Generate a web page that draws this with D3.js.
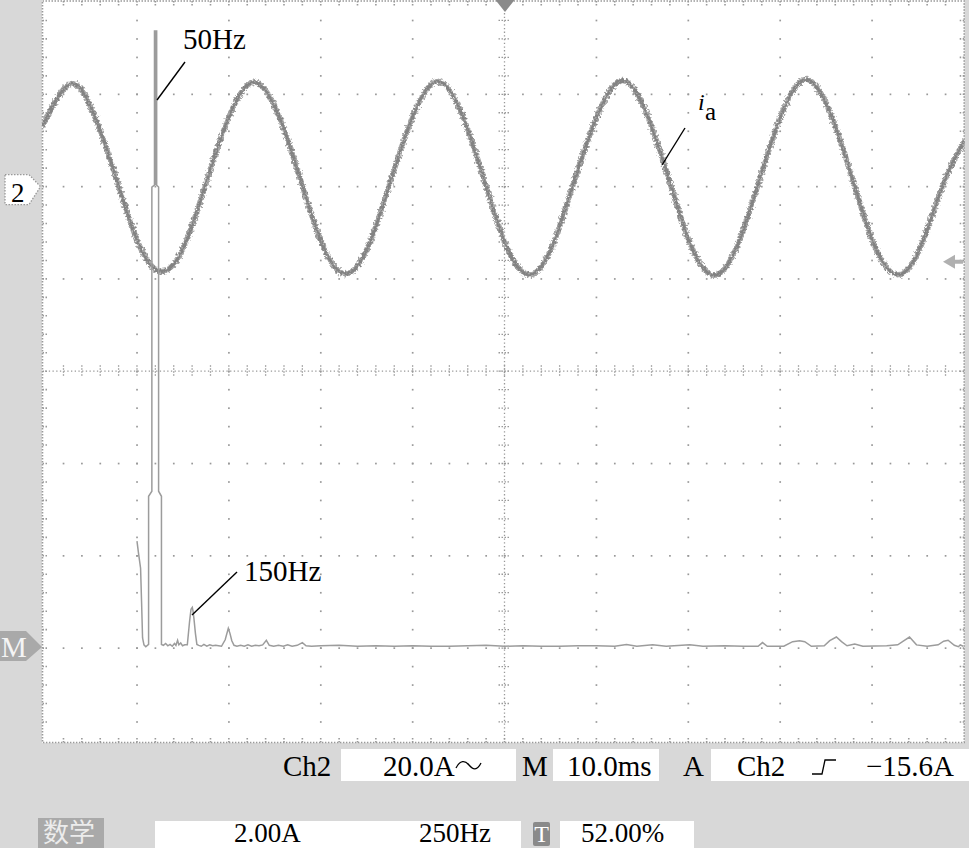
<!DOCTYPE html>
<html><head><meta charset="utf-8">
<script src="https://cdn.jsdelivr.net/npm/d3@7"></script>
<style>html,body{margin:0;padding:0;background:#d8d8d8;} svg{display:block;}</style>
</head><body><svg id="c" width="969" height="848"></svg>
<script>
// ---------------- data ----------------
// Ch2 current i_a : time (ms) and value (A)
const sineTimeMs = [-0.3, 2.7, 5.2, 7.7, 10.2, 12.7, 15.2, 17.7, 20.2, 22.7, 25.2, 27.7, 30.2, 32.7, 35.2, 37.7, 40.2, 42.7, 45.2, 47.7, 50.2, 52.7, 55.2, 57.7, 60.3, 62.8, 65.3, 67.8, 70.3, 72.8, 75.3, 77.8, 80.3, 82.8, 85.3, 87.8, 90.3, 92.8, 95.3, 97.8, 100.1];
const sineAmpA   = [13.0, 22.2, 16.2, 2.0, -12.5, -18.4, -12.6, 1.9, 16.0, 22.6, 16.4, 2.1, -12.7, -18.9, -12.8, 1.8, 16.1, 22.8, 16.5, 2.0, -12.9, -19.1, -12.9, 1.9, 16.3, 23.0, 16.6, 2.2, -12.8, -19.2, -13.0, 1.8, 16.4, 23.2, 16.7, 2.1, -12.9, -19.1, -13.0, 0.8, 10.0];

// Math FFT : frequency (Hz) and amplitude (A)
const fftFreqHz = [0, 4.4, 9.8, 12.5, 15.2, 19, 24, 31.6, 31.6, 40.5, 40.5, 47.6, 47.6, 53.6, 53.6, 58.8, 58.8, 66.6, 66.6,
  72, 78, 84, 90, 96, 102, 106, 110.5, 114, 119, 124, 130, 137, 143, 147, 150.5, 152.5, 155, 159, 163, 168, 175, 182, 190, 198, 206, 214, 222, 230,
  240, 248.5, 253, 258, 264, 272, 282, 292, 302, 312, 322, 332, 342, 352, 360, 372, 385, 398, 410, 422, 436, 450, 460, 475, 500,
  550, 600, 650, 700, 750, 800, 850, 900, 950, 1000, 1050, 1100, 1150, 1200, 1250, 1300, 1332, 1360, 1403, 1440, 1504, 1540, 1600, 1650,
  1690, 1702, 1715, 1760, 1784, 1803, 1817, 1835, 1870, 1885, 1903, 1917, 1932, 1953, 1975, 2040, 2070, 2085, 2102, 2121, 2150, 2180, 2195, 2207, 2224, 2235, 2240, 2248];
const fftAmpA = [2.32, 2.04, 1.73, 1.00, 0.22, 0.07, 0.03, 0.08, 3.29, 3.40, 9.99, 10.03, 13.37, 13.37, 10.03, 9.99, 3.40, 3.29, 0.08,
  0.06, 0.10, 0.05, 0.08, 0.04, 0.10, 0.06, 0.17, 0.07, 0.11, 0.05, 0.07, 0.07, 0.57, 0.84, 0.88, 0.80, 0.64, 0.32, 0.08, 0.06, 0.04, 0.08, 0.04, 0.07, 0.05, 0.06, 0.05, 0.04,
  0.18, 0.43, 0.32, 0.16, 0.06, 0.04, 0.06, 0.04, 0.07, 0.04, 0.06, 0.05, 0.07, 0.17, 0.06, 0.04, 0.06, 0.04, 0.07, 0.04, 0.06, 0.12, 0.05, 0.04, 0.05,
  0.06, 0.04, 0.05, 0.04, 0.05, 0.04, 0.04, 0.05, 0.06, 0.04, 0.05, 0.04, 0.04, 0.05, 0.05, 0.04, 0.08, 0.04, 0.07, 0.04, 0.07, 0.04, 0.05, 0.04,
  0.04, 0.12, 0.04, 0.04, 0.14, 0.16, 0.14, 0.04, 0.05, 0.16, 0.24, 0.14, 0.05, 0.09, 0.04, 0.05, 0.07, 0.15, 0.24, 0.07, 0.04, 0.07, 0.15, 0.17, 0.06, 0.03, 0.07, 0.04];

// scope settings / readouts
const ch2OffsetDiv = 2;      // Ch2 ground marker position (divisions above centre)
const ch2VoltsPerDiv = 20;   // 20.0 A/div
const mathOffsetDiv = -3;    // M marker position
const mathAmpPerDiv = 2;     // 2.00 A/div
const timePerDivMs = 10;     // 10.0 ms/div
const freqPerDivHz = 250;    // 250 Hz/div
const fftStartDiv = 1;       // 0 Hz at first vertical grid line
const trigLevelA = -16.3;
const row1Labels = ["Ch2", "20.0A", "M", "10.0ms", "A", "Ch2", "\u221215.6A"];
const row2Labels = ["数学", "2.00A", "250Hz", "T", "52.00%"];
const annotations = ["50Hz", "150Hz", "i", "a"];

// ---------------- layout ----------------
const gx0 = 45.1, gx1 = 963.9, gy0 = 2, gy1 = 740.4;
const nX = 10, nY = 8;
const dx = (gx1 - gx0) / nX, dy = (gy1 - gy0) / nY;
const svg = d3.select("#c");
const FONT = "'Liberation Serif','Times New Roman',serif";

svg.append("rect").attr("width", 969).attr("height", 848).attr("fill", "#d8d8d8");
svg.append("rect").attr("x", 42).attr("y", 0).attr("width", 922.5).attr("height", 743).attr("fill", "#ffffff");

const defs = svg.append("defs");
defs.append("clipPath").attr("id", "clip").append("rect").attr("x", 42).attr("y", 0).attr("width", 922.5).attr("height", 743);
const flt = defs.append("filter").attr("id", "rough").attr("filterUnits", "userSpaceOnUse")
  .attr("x", 0).attr("y", 0).attr("width", 969).attr("height", 848);
flt.append("feTurbulence").attr("type", "fractalNoise").attr("baseFrequency", "0.45").attr("numOctaves", 2).attr("seed", 7).attr("result", "n");
flt.append("feDisplacementMap").attr("in", "SourceGraphic").attr("in2", "n").attr("scale", 6)
  .attr("xChannelSelector", "R").attr("yChannelSelector", "G");

// scales
const xDiv = d3.scaleLinear().domain([0, nX]).range([gx0, gx1]);
const yDiv = d3.scaleLinear().domain([-4, 4]).range([gy1, gy0]);
const xTime = d3.scaleLinear().domain([0, nX * timePerDivMs]).range([gx0, gx1]);
const yCh2 = d3.scaleLinear().domain([(-4 - ch2OffsetDiv) * ch2VoltsPerDiv, (4 - ch2OffsetDiv) * ch2VoltsPerDiv]).range([gy1, gy0]);
const xFreq = d3.scaleLinear().domain([-fftStartDiv * freqPerDivHz, (nX - fftStartDiv) * freqPerDivHz]).range([gx0, gx1]);
const yFFT = d3.scaleLinear().domain([(-4 - mathOffsetDiv) * mathAmpPerDiv, (4 - mathOffsetDiv) * mathAmpPerDiv]).range([gy1, gy0]);

// ---------------- graticule ----------------
const grid = svg.append("g").attr("fill", "#999");
const minorX = d3.range(1, nX * 5).map(j => gx0 + j * dx / 5);
const minorY = d3.range(1, nY * 5).map(j => gy0 + j * dy / 5);
d3.range(1, nY).forEach(k => {
  if (k === nY / 2) return;
  const y = gy0 + k * dy;
  minorX.forEach(x => grid.append("rect").attr("x", x - 0.8).attr("y", y - 0.8).attr("width", 1.7).attr("height", 1.7));
});
d3.range(1, nX).forEach(k => {
  if (k === nX / 2) return;
  const x = gx0 + k * dx;
  minorY.forEach(y => grid.append("rect").attr("x", x - 0.8).attr("y", y - 0.8).attr("width", 1.7).attr("height", 1.7));
});
const cx = xDiv(nX / 2), cy = yDiv(0);
const gl = svg.append("g").attr("stroke", "#999").attr("stroke-width", 1.3).attr("stroke-dasharray", "1.3,2.4");
gl.append("line").attr("x1", gx0).attr("x2", gx1).attr("y1", cy).attr("y2", cy);
gl.append("line").attr("x1", cx).attr("x2", cx).attr("y1", gy0).attr("y2", gy1);
minorX.forEach(x => gl.append("line").attr("x1", x).attr("x2", x).attr("y1", cy - 6).attr("y2", cy + 6).attr("stroke-dasharray", "1.5,1.5"));
minorY.forEach(y => gl.append("line").attr("y1", y).attr("y2", y).attr("x1", cx - 6).attr("x2", cx + 6).attr("stroke-dasharray", "1.5,1.5"));
// border with ticks
const bx0 = 42.5, bx1 = 964.2, by0 = 1, by1 = 742.5;
const bd = svg.append("g").attr("stroke", "#999").attr("stroke-width", 1.6).attr("stroke-dasharray", "1.5,1.5").attr("fill", "none");
bd.append("rect").attr("x", bx0).attr("y", by0).attr("width", bx1 - bx0).attr("height", by1 - by0);
minorX.forEach(x => {
  bd.append("line").attr("x1", x).attr("x2", x).attr("y1", by1).attr("y2", by1 - 6);
  bd.append("line").attr("x1", x).attr("x2", x).attr("y1", by0).attr("y2", by0 + 6);
});
minorY.forEach(y => {
  bd.append("line").attr("y1", y).attr("y2", y).attr("x1", bx0).attr("x2", bx0 + 6);
  bd.append("line").attr("y1", y).attr("y2", y).attr("x1", bx1).attr("x2", bx1 - 6);
});

// ---------------- traces ----------------
const plot = svg.append("g").attr("clip-path", "url(#clip)");
const sineData = sineTimeMs.map((t, i) => [t, sineAmpA[i]]);
const sineLine = d3.line().x(d => xTime(d[0])).y(d => yCh2(d[1])).curve(d3.curveNatural);
plot.append("path").attr("d", sineLine(sineData)).attr("fill", "none").attr("stroke", "#a6a6a6")
  .attr("stroke-width", 5.5).attr("filter", "url(#rough)");
plot.append("path").attr("d", sineLine(sineData)).attr("fill", "none").attr("stroke", "#838383")
  .attr("stroke-width", 2.8).attr("filter", "url(#rough)");

const fftData = fftFreqHz.map((f, i) => [f, fftAmpA[i]]);
const fftLine = d3.line().x(d => xFreq(d[0])).y(d => yFFT(d[1]));
plot.append("path").attr("d", fftLine(fftData)).attr("fill", "none").attr("stroke", "#9c9c9c").attr("stroke-width", 1.5);
// the narrow 50 Hz peak reads as a solid band
const band = fftData.slice(11, 15);
plot.append("rect").attr("x", xFreq(band[0][0])).attr("y", yFFT(band[1][1]))
  .attr("width", xFreq(band[2][0]) - xFreq(band[0][0])).attr("height", yFFT(band[0][1]) - yFFT(band[1][1])).attr("fill", "#9c9c9c");

// ---------------- markers ----------------
const yG = yCh2(0);
svg.append("polygon").attr("points", [[5, yG - 12], [29, yG - 12], [40.5, yG], [29, yG + 18], [5, yG + 18]].join(" "))
  .attr("fill", "#ffffff").attr("stroke", "#999").attr("stroke-width", 1.3).attr("stroke-dasharray", "1.5,1.5");
svg.append("text").attr("x", 11).attr("y", yG + 15).attr("font-family", FONT).attr("font-size", 27).text(String(ch2OffsetDiv));

const yM = yFFT(0) - 1;
svg.append("polygon").attr("points", [[0, yM - 16], [26, yM - 16], [42, yM], [26, yM + 14], [0, yM + 14]].join(" ")).attr("fill", "#a9a9a9");
svg.append("text").attr("x", 1).attr("y", yM + 10).attr("font-family", FONT).attr("font-size", 29).attr("fill", "#f4f4f4").text(row1Labels[2]);

// trigger position (top) and level (right)
svg.append("polygon").attr("points", [[cx - 9, 0], [cx + 10, 0], [cx + 0.5, 12]].join(" ")).attr("fill", "#8a8a8a");
const yT = yCh2(trigLevelA);
svg.append("polygon").attr("points", [[943, yT], [955, yT - 7], [955, yT - 2], [963, yT - 2], [963, yT + 2], [955, yT + 2], [955, yT + 7]].join(" ")).attr("fill", "#b0b0b0");

// ---------------- annotations ----------------
const ann = svg.append("g").attr("font-family", FONT).attr("fill", "#000");
ann.append("text").attr("x", 183).attr("y", 49).attr("font-size", 29).text(annotations[0]);
ann.append("line").attr("x1", 185).attr("y1", 62).attr("x2", 157).attr("y2", 100).attr("stroke", "#000").attr("stroke-width", 1.4);
ann.append("text").attr("x", 244).attr("y", 581).attr("font-size", 29).text(annotations[1]);
ann.append("line").attr("x1", 237).attr("y1", 572).attr("x2", 192).attr("y2", 615).attr("stroke", "#000").attr("stroke-width", 1.4);
ann.append("text").attr("x", 698).attr("y", 110).attr("font-size", 24).attr("font-style", "italic").text(annotations[2]);
ann.append("text").attr("x", 705).attr("y", 120).attr("font-size", 25).text(annotations[3]);
ann.append("line").attr("x1", 685).attr("y1", 128).attr("x2", 662).attr("y2", 165).attr("stroke", "#000").attr("stroke-width", 1.4);

// ---------------- readouts ----------------
const ro = svg.append("g").attr("font-family", FONT).attr("font-size", 29).attr("fill", "#000");
const boxes1 = [[341, 516], [553, 659], [711, 975]];
boxes1.forEach(b => ro.append("rect").attr("x", b[0]).attr("y", 749).attr("width", b[1] - b[0]).attr("height", 32).attr("fill", "#fff"));
ro.append("text").attr("x", 283).attr("y", 776).text(row1Labels[0]);
ro.append("text").attr("x", 383).attr("y", 776).text(row1Labels[1]);
ro.append("path").attr("d", "M456,768 C460,760 465,760 469,765 C473,770 477,771 481,763").attr("fill", "none").attr("stroke", "#000").attr("stroke-width", 1.3);
ro.append("text").attr("x", 522).attr("y", 776).text(row1Labels[2]);
ro.append("text").attr("x", 567).attr("y", 776).text(row1Labels[3]);
ro.append("text").attr("x", 683).attr("y", 776).text(row1Labels[4]);
ro.append("text").attr("x", 737).attr("y", 776).text(row1Labels[5]);
ro.append("path").attr("d", "M812,774 H822 L825,760 H836").attr("fill", "none").attr("stroke", "#000").attr("stroke-width", 1.3);
ro.append("text").attr("x", 866).attr("y", 776).text(row1Labels[6]);

ro.append("rect").attr("x", 38).attr("y", 818).attr("width", 66).attr("height", 30).attr("fill", "#a9a9a9");
ro.append("text").attr("x", 43).attr("y", 842).attr("font-family", "'Noto Sans CJK SC',sans-serif").attr("font-size", 26).attr("fill", "#ececec").text(row2Labels[0]);
ro.append("rect").attr("x", 155).attr("y", 821).attr("width", 366).attr("height", 27).attr("fill", "#fff");
ro.append("text").attr("x", 234).attr("y", 842).attr("font-size", 27).text(row2Labels[1]);
ro.append("text").attr("x", 419).attr("y", 842).attr("font-size", 27).text(row2Labels[2]);
ro.append("rect").attr("x", 533).attr("y", 822).attr("width", 17).attr("height", 24).attr("rx", 2).attr("fill", "#8a8a8a");
ro.append("text").attr("x", 541.5).attr("y", 842).attr("font-size", 24).attr("text-anchor", "middle").attr("fill", "#fff").text(row2Labels[3]);
ro.append("rect").attr("x", 560).attr("y", 821).attr("width", 134).attr("height", 27).attr("fill", "#fff");
ro.append("text").attr("x", 581).attr("y", 842).attr("font-size", 27).text(row2Labels[4]);
</script></body></html>
